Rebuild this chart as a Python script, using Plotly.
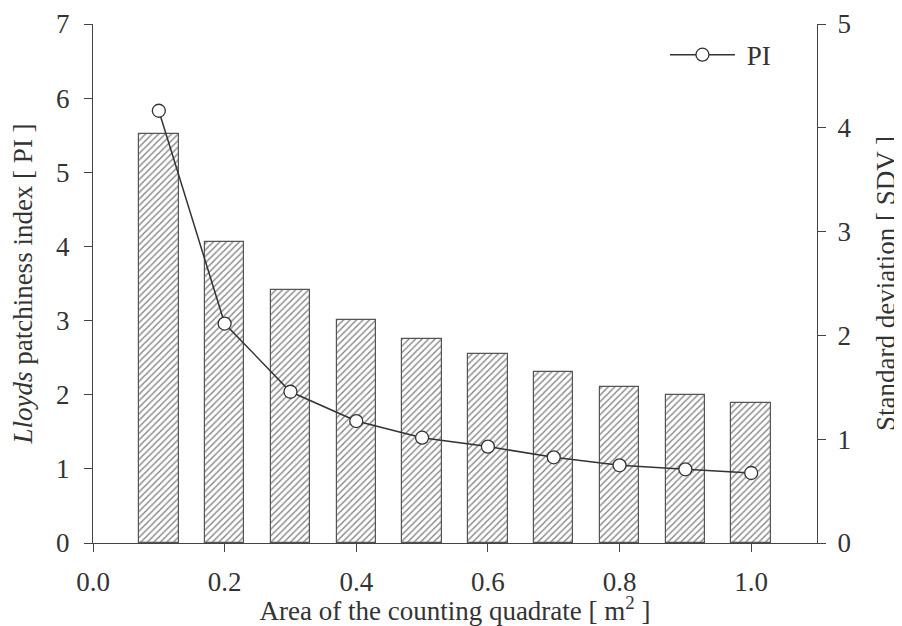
import plotly.graph_objects as go

area = [0.1, 0.2, 0.3, 0.4, 0.5, 0.6, 0.7, 0.8, 0.9, 1.0]
pi_values = [5.83, 2.96, 2.04, 1.645, 1.42, 1.30, 1.156, 1.048, 0.994, 0.944]
sdv_values = [3.94, 2.897, 2.44, 2.15, 1.97, 1.82, 1.65, 1.50, 1.43, 1.35]
x_ticks = [0.0, 0.2, 0.4, 0.6, 0.8, 1.0]
x_tick_labels = ["0.0", "0.2", "0.4", "0.6", "0.8", "1.0"]
pi_ticks = [0, 1, 2, 3, 4, 5, 6, 7]
sdv_ticks = [0, 1, 2, 3, 4, 5]

FONT = "Liberation Serif"
AX = "#444444"
TXT = "#333333"
FS = 27

fig = go.Figure()
fig.add_trace(go.Bar(
    x=area, y=sdv_values, width=0.06, yaxis="y", showlegend=False,
    marker=dict(color="white", line=dict(color="#555555", width=1.2),
                pattern=dict(shape="/", fgcolor="#111111", bgcolor="white",
                             size=4.6, solidity=0.32)),
))
fig.add_trace(go.Scatter(
    x=area, y=pi_values, yaxis="y2", mode="lines+markers", name="\u00a0PI",
    line=dict(color="#333333", width=1.5),
    marker=dict(symbol="circle", size=13, color="white",
                line=dict(color="#333333", width=1.3)),
))

axis_common = dict(showline=True, linecolor=AX, linewidth=1.2, ticks="outside",
                   tickcolor=AX, ticklen=8, tickwidth=1.2, showgrid=False,
                   zeroline=False, automargin=False,
                   tickfont=dict(family=FONT, size=FS, color=TXT))

fig.update_layout(
    width=894, height=618,
    margin=dict(l=85, r=85, t=16, b=83),
    plot_bgcolor="white", paper_bgcolor="white",
    font=dict(family=FONT, color=TXT),
    bargap=0,
    xaxis=dict(range=[0, 1.1], tickvals=x_ticks, ticktext=x_tick_labels,
               ticklabelstandoff=6,
               title=dict(text="Area of the counting quadrate [ m<sup>2</sup> ]\u00a0\u00a0",
                          font=dict(family=FONT, size=FS, color=TXT), standoff=8),
               **axis_common),
    yaxis=dict(range=[0, 5], tickvals=sdv_ticks, side="right",
               ticklabelstandoff=6,
               title=dict(text="Standard deviation [ SDV ]",
                          font=dict(family=FONT, size=FS, color=TXT), standoff=25),
               **axis_common),
    yaxis2=dict(range=[0, 7], tickvals=pi_ticks, side="left", overlaying="y",
                ticklabelstandoff=9,
                title=dict(text="<i>Lloyds</i> patchiness index [ PI ]",
                           font=dict(family=FONT, size=FS, color=TXT), standoff=27),
                **axis_common),
    legend=dict(x=0.79, y=0.94, xanchor="left", yanchor="middle",
                bgcolor="rgba(0,0,0,0)", itemwidth=65,
                font=dict(family=FONT, size=FS, color=TXT)),
)

fig.write_html("out.html")
